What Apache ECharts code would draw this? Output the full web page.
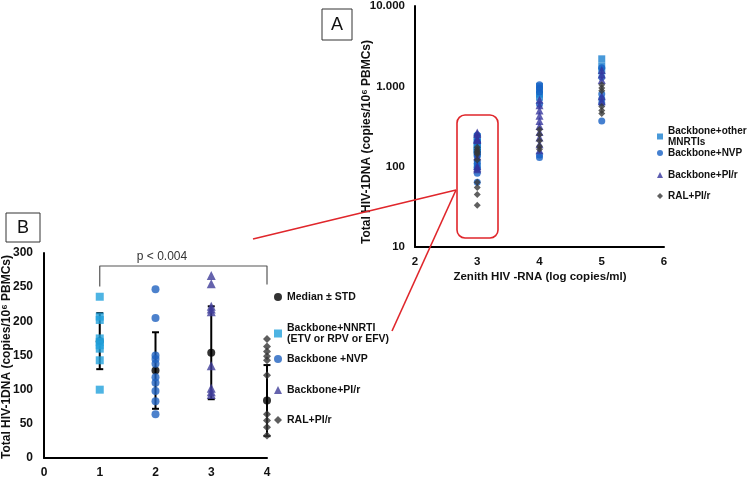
<!DOCTYPE html>
<html>
<head>
<meta charset="utf-8">
<script src="https://cdn.jsdelivr.net/npm/echarts@6/dist/echarts.min.js"></script>
<style>html,body{margin:0;padding:0;background:#fff}#c{width:749px;height:479px}</style>
</head>
<body>
<div id="c"></div>
<script>
// ---------- Panel B data (Total HIV-1 DNA by regimen group) ----------
const bGroupX = [1, 2, 3, 4];
const bNnrti = [236, 207, 202, 175, 170, 165, 160, 143, 100];
const bNvp = [247, 205, 150, 145, 138, 118, 110, 98, 83, 64];
const bPir = [267, 255, 222, 218, 214, 135, 102, 97, 93];
const bRal = [174, 163, 156, 149, 143, 121, 64, 55, 45, 33];
const bMedian = [171, 128, 154, 84];
const bStd = [41, 56, 68, 52];
const bBracket = [[1, 251], [1, 281], [4, 281], [4, 254]];
const bXTicks = [0, 1, 2, 3, 4];
const bYTicks = [0, 50, 100, 150, 200, 250, 300];

// ---------- Panel A data (by zenith HIV-RNA, log) ----------
const aZenith = [3, 4, 5];
const aOther = [bNnrti, [1000, 900, 800, 730], [2200, 1800, 1550]];
const aNvp = [bNvp, [1050, 950, 850, 600, 140, 130], [1700, 1300, 800, 700, 620, 370]];
const aPir = [bPir, [680, 580, 500, 430, 370, 320, 270, 230, 190, 160], [1600, 1400, 1200, 750, 650]];
const aRal = [bRal, [290, 250, 210, 180, 165], [1050, 950, 880, 560, 500, 460]];
const aYTickLabels = ['10', '100', '1.000', '10.000'];
const aXTicks = [2, 3, 4, 5, 6];

const FONT = '"Liberation Sans", Arial, sans-serif';
const chart = echarts.init(document.getElementById('c'), null, {renderer: 'canvas'});

function toPts(xs, groups) {
  const out = [];
  groups.forEach((vals, i) => vals.forEach(v => out.push([xs[i], v])));
  return out;
}
function axisCommon(extra) {
  return Object.assign({
    axisLine: {show: true, onZero: false, lineStyle: {color: '#000', width: 2}},
    axisTick: {show: false},
    splitLine: {show: false},
  }, extra);
}
const lblA = {fontFamily: FONT, fontWeight: 'bold', fontSize: 11.5, color: '#111'};
const lblB = {fontFamily: FONT, fontWeight: 'bold', fontSize: 12, color: '#111'};

const colA = {other: '#1a7fd0', nvp: '#1660c4', pir: '#34349c', ral: '#383838'};
const colB = {nnrti: '#22a1dc', nvp: '#1f62bf', pir: '#3f3c98', ral: '#363636'};

function legendItem(name, left, top, icon, w, h, fs) {
  return {
    data: [{name: name, icon: icon}],
    left: left, top: top, orient: 'vertical', padding: 0,
    itemWidth: w, itemHeight: h, selectedMode: false,
    formatter: n => n.replace(/^[AB]\|/, ''),
    textStyle: {fontFamily: FONT, fontWeight: 'bold', fontSize: fs, lineHeight: 11, color: '#111'}
  };
}

const option = {
  animation: false,
  backgroundColor: '#fff',
  textStyle: {fontFamily: FONT},
  grid: [
    {left: 415, top: 6, width: 249, height: 241},
    {left: 44, top: 253, width: 223, height: 208}
  ],
  xAxis: [
    axisCommon({gridIndex: 0, type: 'value', min: aXTicks[0], max: aXTicks[aXTicks.length - 1], interval: 1,
      axisLabel: Object.assign({margin: 9}, lblA)}),
    axisCommon({gridIndex: 1, type: 'value', min: bXTicks[0], max: bXTicks[bXTicks.length - 1], interval: 1,
      axisLabel: Object.assign({margin: 9}, lblB)})
  ],
  yAxis: [
    axisCommon({gridIndex: 0, type: 'log', logBase: 10, min: 10, max: 10000,
      axisLabel: Object.assign({margin: 10, formatter: v => aYTickLabels[Math.round(Math.log10(v)) - 1]}, lblA)}),
    axisCommon({gridIndex: 1, type: 'value', min: bYTicks[0], max: bYTicks[bYTicks.length - 1], interval: 50,
      axisLabel: Object.assign({margin: 11}, lblB)})
  ],
  legend: [
    legendItem('A|Backbone+other\nMNRTIs', 657, 125.5, 'rect', 6, 6, 10),
    legendItem('A|Backbone+NVP', 657, 147.5, 'circle', 6, 6, 10),
    legendItem('A|Backbone+PI/r', 657, 169.5, 'triangle', 6, 6, 10),
    legendItem('A|RAL+PI/r', 657, 190.5, 'diamond', 6, 6, 10),
    legendItem('B|Median ± STD', 274, 291.5, 'circle', 8, 8, 10.5),
    legendItem('B|Backbone+NNRTI\n(ETV or RPV or EFV)', 274, 322.5, 'rect', 8, 8, 10.5),
    legendItem('B|Backbone +NVP', 274, 353.5, 'circle', 8, 8, 10.5),
    legendItem('B|Backbone+PI/r', 274, 384.5, 'triangle', 8, 8, 10.5),
    legendItem('B|RAL+PI/r', 274, 414.5, 'diamond', 8, 8, 10.5)
  ],
  series: [
    // Panel A
    {name: 'A|Backbone+other\nMNRTIs', type: 'scatter', xAxisIndex: 0, yAxisIndex: 0, symbol: 'rect', symbolSize: 7,
      itemStyle: {color: colA.other}, data: toPts(aZenith, aOther)},
    {name: 'A|Backbone+NVP', type: 'scatter', xAxisIndex: 0, yAxisIndex: 0, symbol: 'circle', symbolSize: 7,
      itemStyle: {color: colA.nvp}, data: toPts(aZenith, aNvp)},
    {name: 'A|Backbone+PI/r', type: 'scatter', xAxisIndex: 0, yAxisIndex: 0, symbol: 'triangle', symbolSize: 8,
      itemStyle: {color: colA.pir}, data: toPts(aZenith, aPir)},
    {name: 'A|RAL+PI/r', type: 'scatter', xAxisIndex: 0, yAxisIndex: 0, symbol: 'diamond', symbolSize: 7,
      itemStyle: {color: colA.ral}, data: toPts(aZenith, aRal)},
    // Panel B bracket
    {type: 'line', xAxisIndex: 1, yAxisIndex: 1, data: bBracket, symbol: 'none', silent: true, z: 1,
      lineStyle: {color: '#555', width: 1.2}},
    // Panel B error bars
    {type: 'custom', xAxisIndex: 1, yAxisIndex: 1, z: 2, silent: true,
      data: bGroupX.map((x, i) => [x, bMedian[i] - bStd[i], bMedian[i] + bStd[i]]),
      encode: {x: 0, y: [1, 2]},
      renderItem: function (params, api) {
        const x = api.value(0);
        const lo = api.coord([x, api.value(1)]);
        const hi = api.coord([x, api.value(2)]);
        const st = {stroke: '#000', lineWidth: 2};
        return {type: 'group', children: [
          {type: 'line', shape: {x1: lo[0], y1: lo[1], x2: hi[0], y2: hi[1]}, style: st},
          {type: 'line', shape: {x1: lo[0] - 3.5, y1: lo[1], x2: lo[0] + 3.5, y2: lo[1]}, style: st},
          {type: 'line', shape: {x1: hi[0] - 3.5, y1: hi[1], x2: hi[0] + 3.5, y2: hi[1]}, style: st}
        ]};
      }},
    {name: 'B|Median ± STD', type: 'scatter', xAxisIndex: 1, yAxisIndex: 1, z: 3, symbol: 'circle', symbolSize: 8,
      itemStyle: {color: '#000'}, data: bGroupX.map((x, i) => [x, bMedian[i]])},
    {name: 'B|Backbone+NNRTI\n(ETV or RPV or EFV)', type: 'scatter', xAxisIndex: 1, yAxisIndex: 1, z: 4, symbol: 'rect', symbolSize: 8,
      itemStyle: {color: colB.nnrti}, data: bNnrti.map(v => [bGroupX[0], v])},
    {name: 'B|Backbone +NVP', type: 'scatter', xAxisIndex: 1, yAxisIndex: 1, z: 4, symbol: 'circle', symbolSize: 8,
      itemStyle: {color: colB.nvp}, data: bNvp.map(v => [bGroupX[1], v])},
    {name: 'B|Backbone+PI/r', type: 'scatter', xAxisIndex: 1, yAxisIndex: 1, z: 4, symbol: 'triangle', symbolSize: 9,
      itemStyle: {color: colB.pir}, data: bPir.map(v => [bGroupX[2], v])},
    {name: 'B|RAL+PI/r', type: 'scatter', xAxisIndex: 1, yAxisIndex: 1, z: 4, symbol: 'diamond', symbolSize: 8,
      itemStyle: {color: colB.ral}, data: bRal.map(v => [bGroupX[3], v])}
  ],
  graphic: [
    // panel labels
    {type: 'rect', shape: {x: 322, y: 9, width: 30, height: 31}, style: {fill: '#fff', stroke: '#333', lineWidth: 1}},
    {type: 'text', x: 337, y: 25, style: {text: 'A', font: '18px ' + FONT, fill: '#111', textAlign: 'center', textVerticalAlign: 'middle'}},
    {type: 'rect', shape: {x: 6, y: 213, width: 34, height: 29}, style: {fill: '#fff', stroke: '#333', lineWidth: 1}},
    {type: 'text', x: 23, y: 228, style: {text: 'B', font: '18px ' + FONT, fill: '#111', textAlign: 'center', textVerticalAlign: 'middle'}},
    // axis titles
    {type: 'text', x: 367, y: 142, rotation: Math.PI / 2,
      style: {text: 'Total HIV-1DNA (copies/10⁶ PBMCs)', font: 'bold 12px ' + FONT, fill: '#111', textAlign: 'center', textVerticalAlign: 'middle'}},
    {type: 'text', x: 540, y: 277,
      style: {text: 'Zenith HIV -RNA (log copies/ml)', font: 'bold 11.5px ' + FONT, fill: '#111', textAlign: 'center', textVerticalAlign: 'middle'}},
    {type: 'text', x: 7, y: 357, rotation: Math.PI / 2,
      style: {text: 'Total HIV-1DNA (copies/10⁶ PBMCs)', font: 'bold 12px ' + FONT, fill: '#111', textAlign: 'center', textVerticalAlign: 'middle'}},
    // significance
    {type: 'text', x: 162, y: 257, style: {text: 'p < 0.004', font: '12px ' + FONT, fill: '#333', textAlign: 'center', textVerticalAlign: 'middle'}},
    // red highlight + connectors
    {type: 'rect', z: 10, shape: {x: 457, y: 115, width: 41, height: 123, r: 8}, style: {fill: 'none', stroke: '#e0262b', lineWidth: 1.6}},
    {type: 'line', z: 10, shape: {x1: 253, y1: 239, x2: 456, y2: 190}, style: {stroke: '#e0262b', lineWidth: 1.6}},
    {type: 'line', z: 10, shape: {x1: 456, y1: 190, x2: 392, y2: 331}, style: {stroke: '#e0262b', lineWidth: 1.6}}
  ]
};
chart.setOption(option);
</script>
</body>
</html>
